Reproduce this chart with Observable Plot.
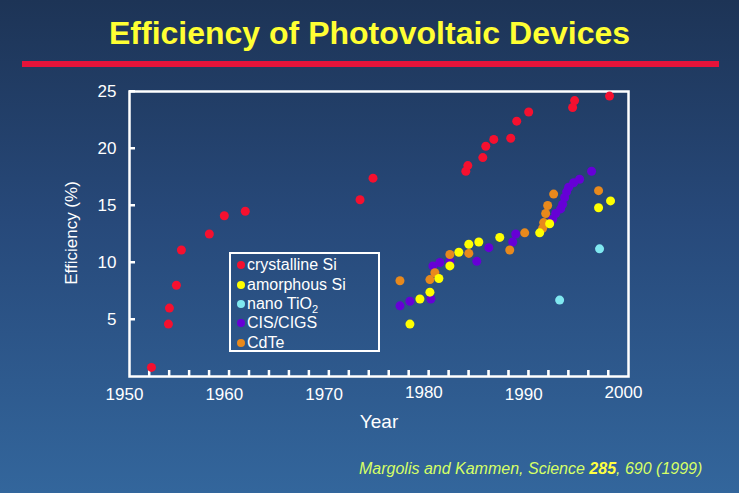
<!DOCTYPE html>
<html><head><meta charset="utf-8">
<script src="https://cdn.jsdelivr.net/npm/d3@7"></script>
<script src="https://cdn.jsdelivr.net/npm/@observablehq/plot@0.6"></script>
<style>
html,body{margin:0;padding:0;}
body{width:739px;height:493px;overflow:hidden;position:relative;
  background:linear-gradient(to bottom,#1d3456 0%,#27497a 45%,#33669c 100%);
  font-family:"Liberation Sans",Arial,sans-serif;}
#title{position:absolute;top:13px;left:0;width:739px;margin:0;text-align:center;color:#ffff33;
  font-size:32px;font-weight:bold;line-height:40px;}
#rule{position:absolute;left:22px;top:61px;width:697px;height:6px;background:#e4133a;}
#chart{position:absolute;left:0;top:80px;}
#legend{position:absolute;left:229px;top:252px;width:147px;height:96px;border:2px solid #fff;
  color:#fff;font-size:16px;}
#legend .row{position:absolute;left:0;height:20px;line-height:20px;white-space:nowrap;}
#legend .dot{position:absolute;left:6px;top:6px;width:8px;height:8px;border-radius:50%;}
#legend .lab{position:absolute;left:16px;top:0;}
#legend sub{font-size:11px;vertical-align:-4px;line-height:0;}
#caption{position:absolute;left:359px;top:459px;line-height:20px;font-size:16px;font-style:italic;color:#d6ff66;white-space:nowrap;}
#caption b{color:#ffff40;}
</style></head>
<body>
<h1 id="title">Efficiency of Photovoltaic Devices</h1>
<div id="rule"></div>
<div id="chart"></div>
<div id="legend"></div>
<div id="caption">Margolis and Kammen, Science <b>285</b>, 690 (1999)</div>
<script>
// ---- data ----
const seriesNames = ["crystalline Si", "amorphous Si", "nano TiO2", "CIS/CIGS", "CdTe"];
const seriesColors = ["#f5102f", "#ffff00", "#80e8f0", "#6600d6", "#e8891c"];

const crystallineYears = [1952.2, 1953.9, 1954.0, 1954.7, 1955.2, 1958.0, 1959.5, 1961.6, 1973.1, 1974.4, 1983.7, 1983.9, 1985.4, 1985.7, 1986.5, 1988.2, 1988.8, 1990.0, 1994.4, 1994.6, 1998.1];
const crystallineEff   = [0.8, 4.6, 6.0, 8.0, 11.1, 12.5, 14.1, 14.5, 15.5, 17.4, 18.0, 18.5, 19.2, 20.2, 20.8, 20.9, 22.4, 23.2, 23.6, 24.2, 24.6];

const amorphousYears = [1978.1, 1979.1, 1980.1, 1981.0, 1982.1, 1983.0, 1984.0, 1985.0, 1987.1, 1991.1, 1992.1, 1997.0, 1998.2];
const amorphousEff   = [4.6, 6.8, 7.4, 8.6, 9.7, 10.9, 11.6, 11.8, 12.2, 12.6, 13.4, 14.8, 15.4];

const tio2Years = [1993.1, 1997.1];
const tio2Eff   = [6.7, 11.2];

const cigsYears = [1977.1, 1978.1, 1980.2, 1980.4, 1981.1, 1982.1, 1984.8, 1986.0, 1988.4, 1988.7, 1992.4, 1992.7, 1993.2, 1993.4, 1993.6, 1993.8, 1994.0, 1994.5, 1995.1, 1996.3];
const cigsEff   = [6.2, 6.6, 6.8, 9.7, 10.0, 10.1, 10.1, 11.3, 11.8, 12.5, 13.8, 14.3, 14.7, 15.1, 15.7, 16.2, 16.6, 17.0, 17.3, 18.0];

const cdteYears = [1977.1, 1980.1, 1980.6, 1982.1, 1984.0, 1988.1, 1989.6, 1991.4, 1991.5, 1991.7, 1991.9, 1992.5, 1997.0];
const cdteEff   = [8.4, 8.5, 9.1, 10.7, 10.8, 11.1, 12.6, 13.0, 13.5, 14.3, 15.0, 16.0, 16.3];

const yTicks = [5, 10, 15, 20, 25];
const xMinorTicks = d3.range(1952, 2000, 2);
const xLabelsLow = [1950, 1960, 1970, 1990];
const xLabelsHigh = [1980, 2000];
const xDomain = [1950, 2000];
const yDomain = [0, 25];

// ---- build table (draw order: red, purple, orange, yellow, cyan) ----
const seriesData = [
  [0, crystallineYears, crystallineEff],
  [3, cigsYears, cigsEff],
  [4, cdteYears, cdteEff],
  [1, amorphousYears, amorphousEff],
  [2, tio2Years, tio2Eff]
];
const rows = [];
for (const [s, ys, es] of seriesData) ys.forEach((y, i) => rows.push({series: seriesNames[s], year: y, eff: es[i]}));

const W = 739, H = 380, ML = 129, MR = 111, MT = 11, MB = 84, TICK = 6, TICKW = 2;
// tick length / half width of the inward ticks, expressed in scale units
const pxX = (xDomain[1] - xDomain[0]) / (W - ML - MR);
const pxY = (yDomain[1] - yDomain[0]) / (H - MT - MB);
const fmt = d => String(d);
const blank = () => "";
const plot = Plot.plot({
  width: W,
  height: H,
  marginLeft: ML,
  marginRight: MR,
  marginTop: MT,
  marginBottom: MB,
  style: {background: "transparent", color: "white", fontFamily: "'Liberation Sans', Arial, sans-serif", overflow: "visible"},
  x: {domain: xDomain},
  y: {domain: yDomain},
  color: {domain: seriesNames, range: seriesColors},
  marks: [
    Plot.axisY(yTicks, {tickSize: 0, tickPadding: 13, tickFormat: fmt, label: null, fontSize: 17}),
    Plot.axisX(xLabelsLow, {tickSize: 0, tickPadding: 11, dx: -5, tickFormat: fmt, label: null, fontSize: 17}),
    Plot.axisX(xLabelsHigh, {tickSize: 0, tickPadding: 11, dx: -5, dy: -2, tickFormat: fmt, label: null, fontSize: 17}),
    Plot.frame({stroke: "white", strokeWidth: 2.5}),
    // inward ticks (filled rects)
    Plot.rect(yTicks, {x1: () => xDomain[0], x2: () => xDomain[0] + TICK * pxX, y1: d => d - TICKW / 2 * pxY, y2: d => d + TICKW / 2 * pxY, fill: "white"}),
    Plot.rect(xMinorTicks, {x1: d => d - TICKW / 2 * pxX, x2: d => d + TICKW / 2 * pxX, y1: () => yDomain[0], y2: () => yDomain[0] + TICK * pxY, fill: "white"}),
    // inward ticks (strokes)
    Plot.ruleY(yTicks, {y: d => d, x1: xDomain[0], x2: xDomain[0] + TICK * pxX, stroke: "white", strokeWidth: 2}),
    Plot.ruleX(xMinorTicks, {x: d => d, y1: yDomain[0], y2: yDomain[0] + TICK * pxY, stroke: "white", strokeWidth: 2}),
    Plot.text(["Efficiency (%)"], {frameAnchor: "left", text: d => d, rotate: -90, dx: -58, dy: -1, fontSize: 17, fill: "white", textAnchor: "middle", lineAnchor: "middle"}),
    Plot.text(["Year"], {frameAnchor: "bottom", text: d => d, dy: 45, fontSize: 19, fill: "white", textAnchor: "middle", lineAnchor: "middle"}),
    Plot.dot(rows, {x: "year", y: "eff", fill: "series", r: 4.5})
  ]
});
document.getElementById("chart").appendChild(plot);

// ---- legend ----
const legend = document.getElementById("legend");
const rowTops = [1, 21, 40, 59, 79];
seriesNames.forEach((name, i) => {
  const r = document.createElement("div");
  r.className = "row";
  r.style.top = rowTops[i] + "px";
  const dot = document.createElement("span");
  dot.className = "dot";
  dot.style.background = seriesColors[i];
  const lab = document.createElement("span");
  lab.className = "lab";
  if (name === "nano TiO2") lab.innerHTML = "nano TiO<sub>2</sub>";
  else lab.textContent = name;
  r.appendChild(dot); r.appendChild(lab);
  legend.appendChild(r);
});
</script>
</body></html>
